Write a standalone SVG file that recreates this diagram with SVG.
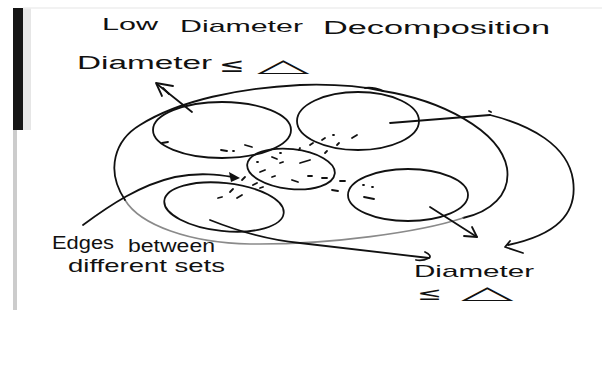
<svg xmlns="http://www.w3.org/2000/svg" width="602" height="385" viewBox="0 0 602 385">
<style>
.ink{fill:none;stroke:#111;stroke-width:1.8;stroke-linecap:round;stroke-linejoin:round}
.gray{fill:none;stroke:#8a8a8a;stroke-width:1.6;stroke-linecap:round}
.d{stroke:#111;stroke-width:1.8;stroke-linecap:round}
.t{font-family:"Liberation Sans","DejaVu Sans",sans-serif;fill:#111}
.sym{font-family:"DejaVu Sans",sans-serif;fill:#111}
</style>
<rect width="602" height="385" fill="#fff"/>
<g id="page-edge">
<rect x="13" y="8" width="10" height="122" fill="#151515"/>
<rect x="23" y="8" width="8" height="122" fill="#e6e6e6"/>
<rect x="13" y="130" width="4" height="180" fill="#cccccc"/>
<line x1="23" y1="8" x2="602" y2="8" stroke="#eeeeee" stroke-width="1.5"/>
</g>
<g id="title">
<text class="t" x="102" y="30" font-size="17" textLength="56" lengthAdjust="spacingAndGlyphs">Low</text>
<text class="t" x="180" y="32" font-size="17" textLength="123" lengthAdjust="spacingAndGlyphs">Diameter</text>
<text class="t" x="323" y="34" font-size="18" textLength="227" lengthAdjust="spacingAndGlyphs">Decomposition</text>
</g>
<g id="label-top">
<text class="t" x="77" y="69" font-size="18" textLength="135" lengthAdjust="spacingAndGlyphs">Diameter</text>
<text class="sym" font-size="22" transform="translate(219,72) scale(1.4,0.9)">≤</text>
<text class="sym" font-size="18" transform="translate(257,72) scale(3.8,1)">△</text>
</g>
<g id="label-edges">
<text class="t" x="52" y="249" font-size="18" textLength="62" lengthAdjust="spacingAndGlyphs">Edges</text>
<text class="t" x="128" y="252" font-size="18" textLength="87" lengthAdjust="spacingAndGlyphs">between</text>
<text class="t" x="68" y="272" font-size="19" textLength="157" lengthAdjust="spacingAndGlyphs">different sets</text>
</g>
<g id="label-bottom">
<text class="t" x="414" y="277" font-size="17" textLength="120" lengthAdjust="spacingAndGlyphs">Diameter</text>
<text class="sym" font-size="20" transform="translate(417,300) scale(1.5,0.9)">≤</text>
<text class="sym" font-size="18" transform="translate(461,299) scale(3.8,1)">△</text>
</g>
<g id="outer-set">
<path class="ink" d="M365,88 C372,87 380,89 383,91 C440,100 500,130 507,168 C511,195 490,212 463,218"/>
<path class="gray" d="M463,218 C420,232 330,245 250,244 C190,243 140,225 125,200"/>
<path class="ink" d="M125,200 C105,170 115,140 140,125 C180,100 240,88 300,85 C330,84 360,86 383,91"/>
</g>
<g id="set-top-left"><ellipse class="ink" cx="222" cy="130" rx="69" ry="28"/></g>
<g id="set-top-right"><ellipse class="ink" cx="358" cy="121" rx="61" ry="29"/></g>
<g id="set-middle"><ellipse class="ink" cx="291" cy="169" rx="44" ry="20" transform="rotate(6 291 169)"/></g>
<g id="set-bottom-left"><ellipse class="ink" cx="224" cy="207" rx="60" ry="24" transform="rotate(6 224 207)"/></g>
<g id="set-right"><ellipse class="ink" cx="408" cy="195" rx="60" ry="26"/></g>
<g id="cross-edges">
<line class="d" x1="245" y1="145" x2="252" y2="147"/>
<line class="d" x1="221" y1="150" x2="227" y2="151"/>
<line class="d" x1="233" y1="151" x2="234" y2="151"/>
<line class="d" x1="162" y1="143" x2="168" y2="142"/>
<line class="d" x1="272" y1="157" x2="277" y2="159"/>
<line class="d" x1="280" y1="153" x2="281" y2="153"/>
<line class="d" x1="299" y1="150" x2="300" y2="148"/>
<line class="d" x1="310" y1="145" x2="313" y2="143"/>
<line class="d" x1="322" y1="140" x2="325" y2="138"/>
<line class="d" x1="333" y1="135" x2="334" y2="135"/>
<line class="d" x1="352" y1="138" x2="357" y2="135"/>
<line class="d" x1="337" y1="145" x2="339" y2="143"/>
<line class="d" x1="325" y1="153" x2="327" y2="151"/>
<line class="d" x1="300" y1="163" x2="310" y2="160"/>
<line class="d" x1="257" y1="162" x2="258" y2="162"/>
<line class="d" x1="260" y1="172" x2="265" y2="170"/>
<line class="d" x1="280" y1="163" x2="283" y2="162"/>
<line class="d" x1="272" y1="177" x2="275" y2="176"/>
<line class="d" x1="292" y1="180" x2="298" y2="182"/>
<line class="d" x1="308" y1="176" x2="312" y2="176"/>
<line class="d" x1="322" y1="178" x2="327" y2="178"/>
<line class="d" x1="340" y1="181" x2="345" y2="181"/>
<line class="d" x1="332" y1="190" x2="338" y2="191"/>
<line class="d" x1="242" y1="180" x2="245" y2="177"/>
<line class="d" x1="253" y1="185" x2="257" y2="183"/>
<line class="d" x1="260" y1="188" x2="263" y2="187"/>
<line class="d" x1="230" y1="192" x2="233" y2="189"/>
<line class="d" x1="218" y1="198" x2="222" y2="197"/>
<line class="d" x1="237" y1="198" x2="242" y2="195"/>
<line class="d" x1="363" y1="185" x2="364" y2="185"/>
<line class="d" x1="372" y1="187" x2="373" y2="187"/>
<line class="d" x1="364" y1="197" x2="374" y2="199"/>
</g>
<g id="connectors">
<path class="ink" d="M192,112 L157,84"/>
<polyline class="ink" points="173,86 156,83 162,96"/>
<line class="ink" x1="163" y1="88" x2="169" y2="94"/>
<path class="ink" d="M390,123 L490,115"/>
<line class="d" x1="489" y1="111" x2="491" y2="112"/>
<path class="ink" d="M490,115 C530,125 568,145 573,180 C578,215 555,235 508,245"/>
<polyline class="ink" points="510,241 505,247 523,253"/>
<path class="ink" d="M430,207 L477,237"/>
<polyline class="ink" points="472,227 477,237 464,236"/>
<path class="ink" d="M210,220 C240,232 270,240 300,243 C350,249 400,255 429,258"/>
<path class="ink" d="M425,252 C430,254 431,257 429,258 C425,260 420,261 416,260"/>
<path class="ink" d="M83,225 C110,205 140,185 175,177 C200,172 220,175 233,177"/>
<polygon points="240,178 229,172 231,182" fill="#111"/>
</g>
</svg>
